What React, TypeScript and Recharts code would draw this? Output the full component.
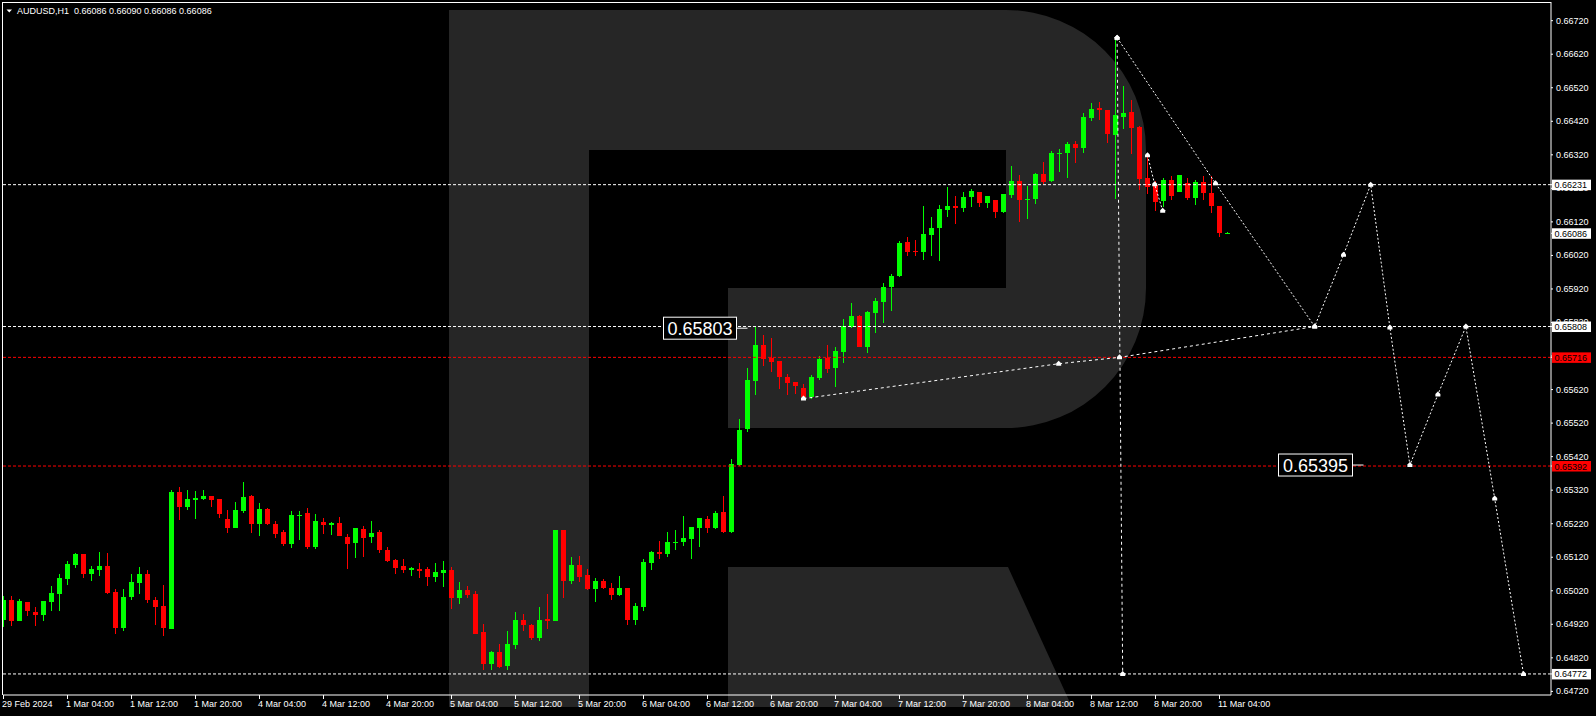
import React from 'react';
import { ComposedChart, Bar, Line, XAxis, YAxis, ReferenceLine, ReferenceDot } from 'recharts';

const W = 1596;
const H = 716;
const GREEN = '#00ff00';
const RED = '#ff0000';
const FONT = '"Liberation Sans", Arial, sans-serif';

// AUDUSD H1 bars, first bar = 29 Feb 20:00 (server time)
const opens = [
  0.64933, 0.64993, 0.64931, 0.64987, 0.64957, 0.64949, 0.64988, 0.65010, 0.65055, 0.65097,
  0.65130, 0.65071, 0.65082, 0.65094, 0.65016, 0.64910, 0.65002, 0.65043, 0.65070, 0.64993,
  0.64975, 0.64907, 0.65315, 0.65271, 0.65291, 0.65294, 0.65303, 0.65294, 0.65234, 0.65208,
  0.65258, 0.65303, 0.65219, 0.65264, 0.65218, 0.65194, 0.65159, 0.65245, 0.65251, 0.65150,
  0.65225, 0.65216, 0.65222, 0.65180, 0.65162, 0.65203, 0.65180, 0.65194, 0.65142, 0.65113,
  0.65095, 0.65081, 0.65084, 0.65084, 0.65060, 0.65072, 0.65081, 0.64997, 0.65021, 0.65009,
  0.64896, 0.64801, 0.64836, 0.64795, 0.64857, 0.64933, 0.64918, 0.64879, 0.64936, 0.64930,
  0.65201, 0.65048, 0.65098, 0.65066, 0.65024, 0.65048, 0.65027, 0.65006, 0.65027, 0.64933,
  0.64972, 0.65104, 0.65137, 0.65131, 0.65161, 0.65164, 0.65173, 0.65206, 0.65235, 0.65206,
  0.65256, 0.65194, 0.65396, 0.65503, 0.65646, 0.65754, 0.65715, 0.65706, 0.65656, 0.65644,
  0.65626, 0.65599, 0.65653, 0.65715, 0.65685, 0.65733, 0.65807, 0.65840, 0.65748, 0.65849,
  0.65882, 0.65927, 0.65959, 0.66061, 0.66034, 0.66031, 0.66082, 0.66103, 0.66156, 0.66168,
  0.66162, 0.66195, 0.66210, 0.66177, 0.66186, 0.66150, 0.66201, 0.66243, 0.66186, 0.66189,
  0.66263, 0.66242, 0.66323, 0.66326, 0.66353, 0.66341, 0.66430, 0.66460, 0.66454, 0.66380,
  0.66433, 0.66448, 0.66404, 0.66252, 0.66231, 0.66183, 0.66246, 0.66210, 0.66237, 0.66192,
  0.66240, 0.66207, 0.66168, 0.66086,
];
const highs = [
  0.65005, 0.65005, 0.64996, 0.64987, 0.64972, 0.64990, 0.65035, 0.65070, 0.65109, 0.65133,
  0.65130, 0.65094, 0.65136, 0.65133, 0.65025, 0.65025, 0.65070, 0.65091, 0.65082, 0.65002,
  0.65038, 0.65321, 0.65330, 0.65321, 0.65318, 0.65321, 0.65303, 0.65294, 0.65261, 0.65285,
  0.65344, 0.65306, 0.65282, 0.65267, 0.65228, 0.65200, 0.65259, 0.65259, 0.65267, 0.65248,
  0.65237, 0.65225, 0.65240, 0.65189, 0.65206, 0.65212, 0.65228, 0.65200, 0.65152, 0.65116,
  0.65116, 0.65090, 0.65102, 0.65090, 0.65102, 0.65108, 0.65090, 0.65045, 0.65033, 0.65018,
  0.64920, 0.64839, 0.64860, 0.64899, 0.64957, 0.64951, 0.64921, 0.64972, 0.65010, 0.65201,
  0.65201, 0.65122, 0.65125, 0.65084, 0.65057, 0.65054, 0.65042, 0.65063, 0.65027, 0.64984,
  0.65116, 0.65140, 0.65167, 0.65194, 0.65200, 0.65244, 0.65209, 0.65238, 0.65244, 0.65259,
  0.65303, 0.65414, 0.65533, 0.65685, 0.65810, 0.65784, 0.65775, 0.65706, 0.65665, 0.65644,
  0.65638, 0.65662, 0.65721, 0.65754, 0.65748, 0.65831, 0.65879, 0.65843, 0.65855, 0.65894,
  0.65939, 0.65965, 0.66064, 0.66076, 0.66067, 0.66168, 0.66135, 0.66171, 0.66225, 0.66198,
  0.66210, 0.66219, 0.66210, 0.66198, 0.66186, 0.66204, 0.66287, 0.66260, 0.66228, 0.66266,
  0.66299, 0.66332, 0.66338, 0.66359, 0.66362, 0.66445, 0.66475, 0.66478, 0.66454, 0.66669,
  0.66526, 0.66484, 0.66407, 0.66317, 0.66243, 0.66251, 0.66257, 0.66260, 0.66251, 0.66246,
  0.66257, 0.66257, 0.66168, 0.66090,
];
const lows = [
  0.64913, 0.64916, 0.64931, 0.64946, 0.64916, 0.64931, 0.64961, 0.64961, 0.65038, 0.65088,
  0.65059, 0.65049, 0.65065, 0.65011, 0.64892, 0.64901, 0.64991, 0.65010, 0.64985, 0.64919,
  0.64886, 0.64907, 0.65232, 0.65262, 0.65235, 0.65291, 0.65271, 0.65238, 0.65193, 0.65208,
  0.65252, 0.65193, 0.65182, 0.65216, 0.65177, 0.65153, 0.65147, 0.65171, 0.65144, 0.65144,
  0.65189, 0.65186, 0.65183, 0.65085, 0.65118, 0.65121, 0.65162, 0.65132, 0.65107, 0.65071,
  0.65074, 0.65065, 0.65057, 0.65033, 0.65045, 0.65030, 0.64967, 0.64982, 0.64997, 0.64890,
  0.64785, 0.64785, 0.64789, 0.64785, 0.64845, 0.64900, 0.64873, 0.64870, 0.64907, 0.64930,
  0.64999, 0.65039, 0.65045, 0.65021, 0.64988, 0.65024, 0.64993, 0.65003, 0.64918, 0.64918,
  0.64960, 0.65082, 0.65116, 0.65122, 0.65143, 0.65155, 0.65116, 0.65152, 0.65191, 0.65203,
  0.65191, 0.65191, 0.65393, 0.65494, 0.65605, 0.65691, 0.65673, 0.65623, 0.65605, 0.65608,
  0.65593, 0.65593, 0.65650, 0.65670, 0.65629, 0.65700, 0.65805, 0.65748, 0.65730, 0.65790,
  0.65819, 0.65855, 0.65956, 0.66019, 0.66019, 0.66007, 0.66019, 0.66004, 0.66135, 0.66114,
  0.66150, 0.66165, 0.66165, 0.66162, 0.66132, 0.66147, 0.66192, 0.66120, 0.66129, 0.66174,
  0.66233, 0.66239, 0.66269, 0.66251, 0.66296, 0.66326, 0.66421, 0.66424, 0.66356, 0.66189,
  0.66398, 0.66323, 0.66216, 0.66204, 0.66153, 0.66165, 0.66186, 0.66210, 0.66186, 0.66171,
  0.66186, 0.66147, 0.66076, 0.66086,
];
const closes = [
  0.64993, 0.64931, 0.64990, 0.64961, 0.64949, 0.64990, 0.65014, 0.65058, 0.65100, 0.65130,
  0.65071, 0.65085, 0.65094, 0.65013, 0.64910, 0.65002, 0.65046, 0.65070, 0.64991, 0.64973,
  0.64910, 0.65315, 0.65271, 0.65294, 0.65297, 0.65303, 0.65291, 0.65250, 0.65208, 0.65261,
  0.65300, 0.65220, 0.65264, 0.65219, 0.65189, 0.65159, 0.65247, 0.65247, 0.65150, 0.65228,
  0.65216, 0.65222, 0.65183, 0.65159, 0.65206, 0.65177, 0.65191, 0.65141, 0.65110, 0.65089,
  0.65081, 0.65087, 0.65078, 0.65060, 0.65075, 0.65081, 0.64997, 0.65021, 0.65006, 0.64890,
  0.64801, 0.64836, 0.64792, 0.64860, 0.64933, 0.64918, 0.64879, 0.64933, 0.64930, 0.65201,
  0.65050, 0.65098, 0.65060, 0.65024, 0.65048, 0.65027, 0.65006, 0.65027, 0.64933, 0.64975,
  0.65107, 0.65137, 0.65131, 0.65164, 0.65164, 0.65176, 0.65209, 0.65238, 0.65206, 0.65253,
  0.65194, 0.65399, 0.65500, 0.65649, 0.65754, 0.65712, 0.65703, 0.65656, 0.65641, 0.65632,
  0.65599, 0.65656, 0.65712, 0.65682, 0.65736, 0.65810, 0.65840, 0.65748, 0.65852, 0.65885,
  0.65927, 0.65959, 0.66058, 0.66031, 0.66031, 0.66085, 0.66103, 0.66159, 0.66168, 0.66162,
  0.66195, 0.66213, 0.66177, 0.66198, 0.66150, 0.66204, 0.66243, 0.66186, 0.66189, 0.66263,
  0.66239, 0.66326, 0.66326, 0.66353, 0.66341, 0.66433, 0.66457, 0.66454, 0.66383, 0.66439,
  0.66445, 0.66401, 0.66249, 0.66225, 0.66180, 0.66246, 0.66198, 0.66260, 0.66192, 0.66240,
  0.66207, 0.66168, 0.66088, 0.66086,
];

// time axis: one label every 8 bars
const timeTicks = [0, 8, 16, 24, 32, 40, 48, 56, 64, 72, 80, 88, 96, 104, 112, 120, 128, 136, 144, 152];
const timeLabels = [
  '29 Feb 2024', '1 Mar 04:00', '1 Mar 12:00', '1 Mar 20:00', '4 Mar 04:00', '4 Mar 12:00',
  '4 Mar 20:00', '5 Mar 04:00', '5 Mar 12:00', '5 Mar 20:00', '6 Mar 04:00', '6 Mar 12:00',
  '6 Mar 20:00', '7 Mar 04:00', '7 Mar 12:00', '7 Mar 20:00', '8 Mar 04:00', '8 Mar 12:00',
  '8 Mar 20:00', '11 Mar 04:00',
];
const priceTicks = [
  0.6672, 0.6662, 0.6652, 0.6642, 0.6632, 0.6622, 0.6612, 0.6602, 0.6592, 0.6582, 0.6572,
  0.6562, 0.6552, 0.6542, 0.6532, 0.6522, 0.6512, 0.6502, 0.6492, 0.6482, 0.6472,
];

// forecast drawing (bar index, price)
const fcIdx = [139.2, 151.5, 163.9, 167.5, 170.9, 173.3, 175.8, 179.3, 182.8, 186.4, 190.0];
const fcPrice = [0.66669, 0.66235, 0.65808, 0.66022, 0.66231, 0.65805, 0.65395, 0.65605, 0.65808, 0.65295, 0.64772];
const supIdx = [100, 131.9, 139.5, 163.9];
const supPrice = [0.65593, 0.65697, 0.65716, 0.65808];
const vertIdx = [139.2, 139.9];
const vertPrice = [0.66669, 0.64772];
const shortIdx = [143.0, 143.9, 144.9];
const shortPrice = [0.66319, 0.66232, 0.66153];

const whiteLevels = [0.66231, 0.65808, 0.64772];
const redLevels = [0.65716, 0.65392];
const bidPrice = 0.66086;
const whiteTags = [0.66231, 0.66086, 0.65808, 0.64772];

const X_DOMAIN: [number, number] = [-0.0625, 193.4375];
const Y_DOMAIN: [number, number] = [0.647092, 0.667757];

const candles = opens.map((o, i) => ({
  i,
  o,
  h: highs[i],
  l: lows[i],
  c: closes[i],
  range: [lows[i], highs[i]],
}));

const toPts = (xs: number[], ys: number[]) => xs.map((i, k) => ({ i, p: ys[k] }));

function Candle(props: any) {
  const { x, y, width, height } = props;
  const d = props.payload || props;
  const top = height >= 0 ? y : y + height;
  const span = Math.abs(height);
  const py = (v: number) => (d.h === d.l ? top : top + ((d.h - v) / (d.h - d.l)) * span);
  // snap the wick to the middle of a pixel column
  const cx = Math.round(x + width / 2 - 0.5) + 0.5;
  const color = d.c >= d.o ? GREEN : RED;
  const bTop = py(Math.max(d.o, d.c));
  const bBot = py(Math.min(d.o, d.c));
  return (
    <g shapeRendering="crispEdges">
      <line x1={cx} x2={cx} y1={top} y2={top + span} stroke={color} strokeWidth={1} />
      <rect x={cx - 2.5} y={bTop} width={5} height={Math.max(1, bBot - bTop)} fill={color} />
    </g>
  );
}

function Marker(props: any) {
  const { cx, cy } = props;
  if (cx == null || cy == null) return null;
  return (
    <path
      d={`M${cx - 2.5},${cy + 2} L${cx - 2.5},${cy - 0.5} L${cx},${cy - 3} L${cx + 2.5},${cy - 0.5} L${cx + 2.5},${cy + 2} Z`}
      fill="#fff"
    />
  );
}

function TimeTick({ x, y, payload }: any) {
  const k = timeTicks.indexOf(payload.value);
  return (
    <text x={x - 1.5} y={y} dy={8} fill="#fff" fontSize={9} fontFamily={FONT} textAnchor="start">
      {timeLabels[k]}
    </text>
  );
}

// regular price labels, and boxed tags for the level lines (drawn last, on top)
function PriceTick({ x, y, payload }: any) {
  const v = Number(payload.value);
  const txt = v.toFixed(5);
  const isWhite = whiteTags.includes(v);
  const isRed = redLevels.includes(v);
  if (isWhite || isRed) {
    return (
      <g>
        <rect x={x - 4} y={y - 5} width={39} height={10.5} fill={isRed ? RED : '#fff'} />
        <text x={x - 1.5} y={y + 3.5} fill="#000" fontSize={9} fontFamily={FONT}>
          {txt}
        </text>
      </g>
    );
  }
  return (
    <text x={x} y={y} dy={3} fill="#fff" fontSize={9} fontFamily={FONT} textAnchor="start">
      {txt}
    </text>
  );
}

const bigLabel = (text: string, w: number) => (props: any) => {
  const { cx, cy } = props;
  return (
    <g>
      <line x1={cx - 11} x2={cx} y1={cy} y2={cy} stroke="#fff" />
      <rect x={cx - 11 - w} y={cy - 11} width={w} height={22} fill="#000" stroke="#fff" />
      <text x={cx - 11 - w / 2} y={cy + 6.5} fill="#fff" fontSize={18} fontFamily={FONT} textAnchor="middle">
        {text}
      </text>
    </g>
  );
};

function Watermark() {
  return (
    <svg width={W} height={H} style={{ position: 'absolute', left: 0, top: 0 }}>
      <rect x={0} y={0} width={W} height={H} fill="#000" />
      <path
        d="M449,10 L1006,10 A140,140 0 0 1 1146,150 L1146,288 A140,140 0 0 1 1006,428 L728,428 L728,288 L1006,288 L1006,150 L589,150 L589,707 L449,707 Z"
        fill="#262626"
      />
      <path d="M728,567 L1008,567 L1072,707 L728,707 Z" fill="#262626" />
      <line x1={2.5} y1={2} x2={2.5} y2={695} stroke="#fff" />
      <line x1={2} y1={2.5} x2={1551} y2={2.5} stroke="#fff" />
      <path d="M6.5,9.5 L12,9.5 L9.25,12.5 Z" fill="#fff" />
      <text x={17} y={14} fill="#fff" fontSize={9} fontFamily={FONT} style={{ whiteSpace: 'pre' }}>
        {'AUDUSD,H1  0.66086 0.66090 0.66086 0.66086'}
      </text>
    </svg>
  );
}

export default function App() {
  return (
    <div style={{ position: 'absolute', left: 0, top: 0, width: W, height: H, background: '#000', overflow: 'hidden' }}>
      <Watermark />
      <div style={{ position: 'absolute', left: 0, top: 0 }}>
        <ComposedChart width={W} height={H} data={candles} margin={{ top: 2, right: 0, bottom: 0, left: 3 }}>
          <XAxis
            xAxisId="t"
            dataKey="i"
            type="number"
            domain={X_DOMAIN}
            allowDataOverflow
            ticks={timeTicks}
            interval={0}
            height={21}
            axisLine={{ stroke: '#fff' }}
            tickLine={{ stroke: '#fff' }}
            tickSize={4}
            tickMargin={0}
            tick={<TimeTick />}
          />
          <YAxis
            yAxisId="p"
            orientation="right"
            type="number"
            domain={Y_DOMAIN}
            allowDataOverflow
            ticks={[...priceTicks, ...redLevels, ...whiteTags]}
            interval={0}
            width={45}
            axisLine={{ stroke: '#fff' }}
            tickLine={{ stroke: '#fff' }}
            tickSize={2}
            tickMargin={3}
            tick={<PriceTick />}
          />
          <Bar
            xAxisId="t"
            yAxisId="p"
            dataKey="range"
            barSize={5}
            shape={<Candle />}
            isAnimationActive={false}
          />
          {whiteLevels.map((v) => (
            <ReferenceLine key={'w' + v} xAxisId="t" yAxisId="p" y={v} stroke="#fff" strokeDasharray="3 2" />
          ))}
          {redLevels.map((v) => (
            <ReferenceLine key={'r' + v} xAxisId="t" yAxisId="p" y={v} stroke={RED} strokeDasharray="3 2" />
          ))}
          <Line xAxisId="t" yAxisId="p" data={toPts(supIdx, supPrice)} dataKey="p" stroke="#fff" strokeDasharray="3 3" dot={<Marker />} isAnimationActive={false} />
          <Line xAxisId="t" yAxisId="p" data={toPts(vertIdx, vertPrice)} dataKey="p" stroke="#fff" strokeDasharray="3 3" dot={<Marker />} isAnimationActive={false} />
          <Line xAxisId="t" yAxisId="p" data={toPts(shortIdx, shortPrice)} dataKey="p" stroke="#fff" strokeDasharray="2 2" dot={<Marker />} isAnimationActive={false} />
          <Line xAxisId="t" yAxisId="p" data={toPts(fcIdx, fcPrice)} dataKey="p" stroke="#fff" strokeDasharray="2 2" dot={<Marker />} isAnimationActive={false} />
          <ReferenceDot xAxisId="t" yAxisId="p" x={93} y={0.65803} r={0} shape={bigLabel('0.65803', 73)} />
          <ReferenceDot xAxisId="t" yAxisId="p" x={170} y={0.65395} r={0} shape={bigLabel('0.65395', 74)} />
          {bidPrice > 0 && null}
        </ComposedChart>
      </div>
    </div>
  );
}
